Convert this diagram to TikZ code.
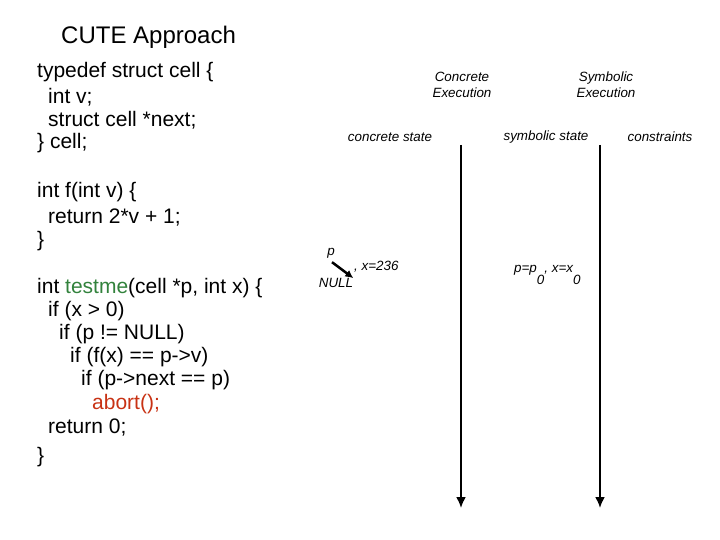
\documentclass[tikz,border=0pt]{standalone}
\usepackage{fontspec}
\setmainfont{Liberation Sans}
\usetikzlibrary{arrows.meta}
\definecolor{kwgreen}{RGB}{50,130,60}
\definecolor{abortred}{RGB}{200,50,20}
\begin{document}
\begin{tikzpicture}[x=1pt,y=-1pt,
  code/.style={anchor=west,inner sep=0pt,font=\fontsize{21}{24}\selectfont},
  small/.style={inner sep=0pt,font=\fontsize{13.4}{16}\selectfont\itshape,align=center},
  timeline/.style={line width=2pt,-{Latex[length=11pt,width=10pt]}}]
\useasboundingbox (0,0) rectangle (720,540);
\node[anchor=west,inner sep=0pt,font=\fontsize{24}{28}\selectfont] (title) at (61,37) {CUTE Approach};
% source code
\node[code] (c1) at (37,72) {typedef struct cell \{};
\node[code] (c2) at (48,97) {int v;};
\node[code] (c3) at (48,120) {struct cell *next;};
\node[code] (c4) at (37,143) {\} cell;};
\node[code] (c5) at (37,192) {int f(int v) \{};
\node[code] (c6) at (48,218) {return 2*v + 1;};
\node[code] (c7) at (37,241) {\}};
\node[code] (c8) at (37,288) {int \textcolor{kwgreen}{testme}(cell *p, int x) \{};
\node[code] (c9) at (48,311) {if (x > 0)};
\node[code] (c10) at (59,334) {if (p != NULL)};
\node[code] (c11) at (70,357) {if (f(x) == p->v)};
\node[code] (c12) at (81,380) {if (p->next == p)};
\node[code] (c13) at (92,404) {\textcolor{abortred}{abort();}};
\node[code] (c14) at (48,428) {return 0;};
\node[code] (c15) at (37,457) {\}};
% headers
\node[small] (conc) at (462,85) {Concrete\\Execution};
\node[small] (symb) at (606,85) {Symbolic\\Execution};
\node[small] (cstate) at (390,137) {concrete state};
\node[small] (sstate) at (546,137) {symbolic state};
\node[small] (cons) at (660,137) {constraints};
% timelines
\coordinate (ct) at (461,145); \coordinate (cb) at (461,508);
\coordinate (st) at (600,145); \coordinate (sb) at (600,508);
\draw[timeline] (ct) -- (cb);
\draw[timeline] (st) -- (sb);
% state
\node[small] (p) at (331,253) {p};
\node[small] (null) at (336,283) {NULL};
\node[small,anchor=west] (xval) at (354,267) {, x=236};
\draw[line width=2.5pt,-{Latex[length=8pt,width=8pt]}] (p.south) ++(1,4) -- (null.north east);
\node[small,anchor=west] (sym) at (514,275) {p=p\raisebox{-1.6ex}{0}, x=x\raisebox{-1.6ex}{0}};
\end{tikzpicture}
\end{document}
